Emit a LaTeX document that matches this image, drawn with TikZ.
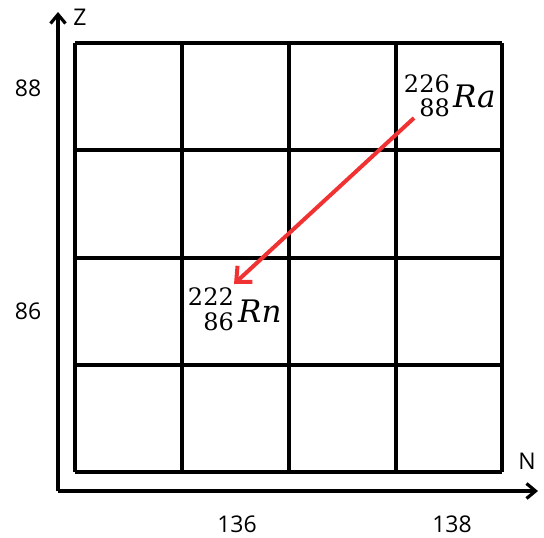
\documentclass[tikz,border=0pt]{standalone}
\usepackage{fontspec}
\setmainfont{Open Sans}
\newfontfamily\elfont{DejaVu Serif}
\usetikzlibrary{arrows.meta}
\tikzset{
  gridline/.style={line width=3.4pt},
  axis/.style={line width=3.4pt,-{Straight Barb[length=9pt,width=15pt,line width=3.2pt]}},
  lbl/.style={font=\fontsize{23}{26}\selectfont, inner sep=0pt},
  num/.style={font=\elfont\fontsize{24}{28}\selectfont, inner sep=0pt},
  elem/.style={font=\elfont\itshape\fontsize{31}{36}\selectfont, inner sep=0pt, anchor=base west},
  decay/.style={draw={rgb,255:red,240;green,50;blue,50}, line width=4pt,
    -{Straight Barb[length=12pt,width=22pt,line width=4pt]}}
}
\begin{document}
\begin{tikzpicture}[x=1pt,y=-1pt]
\useasboundingbox (0,0) rectangle (544,538);
% grid
\foreach \x in {75,182,289,396,502} \draw[gridline] (\x,43) -- (\x,472);
\foreach \y in {43,150,258,365,472} \draw[gridline] (75,\y) -- (502,\y);
% axes
\coordinate (o) at (58,491);
\coordinate (ztip) at (58,12);
\coordinate (ntip) at (538,491);
\draw[axis] (o) -- (ztip);
\draw[axis] (o) -- (ntip);
% axis labels
\node[lbl] (zl) at (80,17) {Z};
\node[lbl] (nl) at (527,461) {N};
\node[lbl] (z88) at (28,88) {88};
\node[lbl] (z86) at (28,311) {86};
\node[lbl] (n136) at (237,524) {136};
\node[lbl] (n138) at (452,524) {138};
% Ra
\node[num, anchor=base east] (ra1) at (450,92) {226};
\node[num, anchor=base east] (ra2) at (450,116) {88};
\node[elem] (ra) at (453,107) {Ra};
% Rn
\node[num, anchor=base east] (rn1) at (234,305) {222};
\node[num, anchor=base east] (rn2) at (234,330) {86};
\node[elem] (rn) at (238,322) {Rn};
% decay arrow
\coordinate (as) at (414,118);
\coordinate (ae) at (234,284);
\draw[decay] (as) -- (ae);
\end{tikzpicture}
\end{document}
